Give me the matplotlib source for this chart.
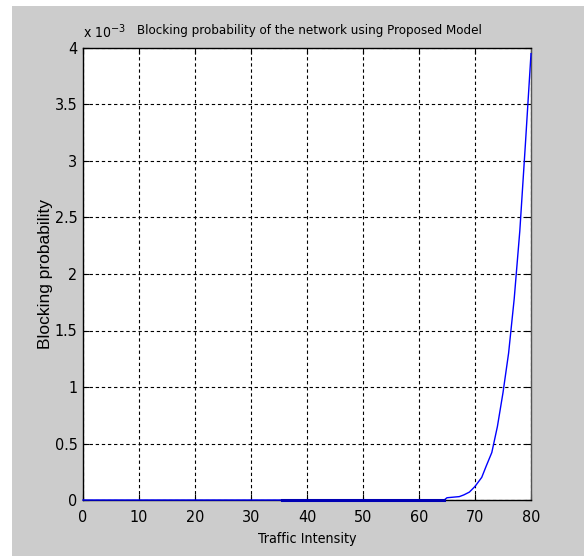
import matplotlib
matplotlib.use("Agg")
import matplotlib.pyplot as plt
from matplotlib.font_manager import FontProperties
from matplotlib.patches import Rectangle
from matplotlib.ticker import FuncFormatter, MultipleLocator

# traffic intensity (Erlang) and blocking probability from the proposed model
traffic = [0, 35.5, 64.5, 65, 67.2, 68, 69, 70, 71.2, 72, 73, 74, 75, 76, 77, 78, 79, 80]
blocking = [0, 0, 0, 0.00002, 0.00003, 0.000045, 0.00007, 0.00012, 0.0002, 0.0003,
            0.00042, 0.00065, 0.00095, 0.0013, 0.00178, 0.00238, 0.00315, 0.00395]

# overlapping near-zero segment drawn heavier
flat_traffic = [35.5, 64.5]
flat_blocking = [0, 0]

x_ticks = [0, 10, 20, 30, 40, 50, 60, 70, 80]

# narrow sans for horizontal text, regular sans for the rotated label
tick_font = FontProperties(family="DejaVu Sans", stretch="condensed", size=11.5)
title_font = FontProperties(family="DejaVu Sans", stretch="condensed", size=9.5)
label_font = FontProperties(family="DejaVu Sans", stretch="condensed", size=10.3)
exp_font = FontProperties(family="DejaVu Sans", stretch="condensed", size=10)
vfont = FontProperties(family="Liberation Sans", size=12.5)

fig = plt.figure(figsize=(5.84, 5.56), dpi=100)
fig.patch.set_facecolor("white")
fig.patches.append(Rectangle((12 / 584, 0), 1, 1 - 6 / 556, transform=fig.transFigure,
                             facecolor="#cccccc", edgecolor="none", zorder=-10))

ax = fig.add_axes([83 / 584, 1 - 500 / 556, 448 / 584, 452 / 556])
ax.set_facecolor("white")

ax.plot(traffic, blocking, color="#0000ff", linewidth=1.0, zorder=3, clip_on=False)
ax.plot(flat_traffic, flat_blocking, color="#0000b4", linewidth=2.2, zorder=4,
        clip_on=False)

ax.set_xlim(0, 80)
ax.set_ylim(0, 0.004)
ax.set_xticks(x_ticks)
ax.yaxis.set_major_locator(MultipleLocator(0.0005))
ax.yaxis.set_major_formatter(FuncFormatter(lambda v, _: f"{v * 1e3:g}"))

ax.grid(True, color="black", linestyle=(0, (3, 2.5)), linewidth=0.8)
ax.tick_params(direction="in", length=4, top=True, right=True, colors="black")
ax.tick_params(axis="x", pad=7)
ax.tick_params(axis="y", pad=4)
for lbl in ax.get_xticklabels() + ax.get_yticklabels():
    lbl.set_fontproperties(tick_font)
for spine in ax.spines.values():
    spine.set_linewidth(1.0)
    spine.set_color("black")
ax.spines["right"].set_color("#555555")

ax.text(0, 1.015, r"x 10$^{-3}$", transform=ax.transAxes, fontproperties=exp_font,
        ha="left", va="bottom")
ax.set_title("Blocking probability of the network using Proposed Model",
             fontproperties=title_font, pad=10, x=0.505)
ax.set_xlabel("Traffic Intensity", fontproperties=label_font, labelpad=5)
ax.set_ylabel("Blocking probability", fontproperties=vfont, labelpad=1)

fig.savefig("out.png", dpi=100)
